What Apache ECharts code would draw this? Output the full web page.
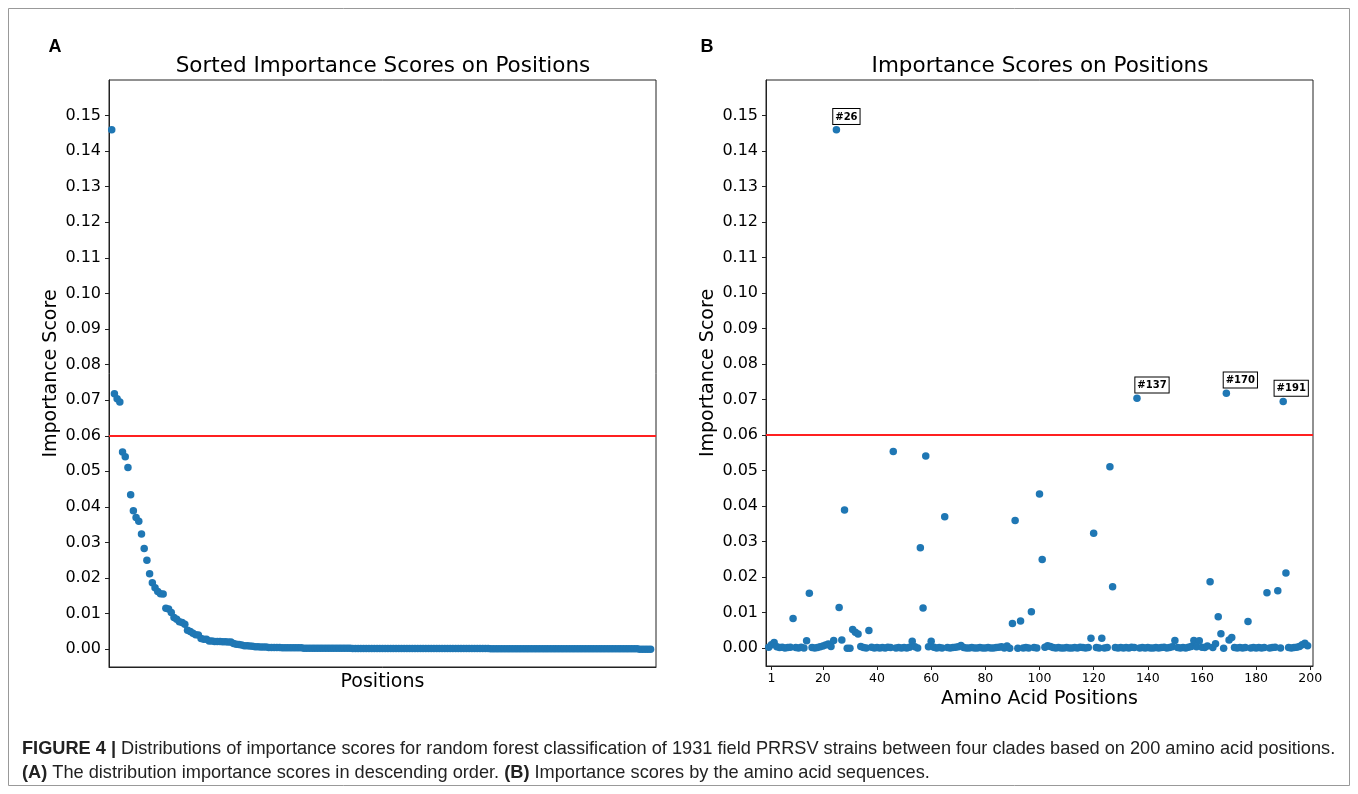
<!DOCTYPE html>
<html>
<head>
<meta charset="utf-8">
<script src="https://cdn.jsdelivr.net/npm/echarts@6/dist/echarts.min.js"></script>
<style>
html,body{margin:0;padding:0;background:#fff;}
#chart{width:1358px;height:794px;}
</style>
</head>
<body>
<div id="chart"></div>
<script>
// ---------- data ----------
// Panel B: importance score of each amino-acid position (index 0..199 -> position 1..200)
const scoresByPosition = [
  0.0003, 0.0010, 0.0016, 0.0004, 0.0002, 0.0003, 0.0001, 0.0002, 0.0003, 0.0084,
  0.0002, 0.0001, 0.0003, 0.0001, 0.0021, 0.0155, 0.0002, 0.0001, 0.0002, 0.0004,
  0.0006, 0.0009, 0.0012, 0.0005, 0.0022, 0.1460, 0.0115, 0.0023, 0.0389, 0.0000,
  0.0000, 0.0053, 0.0045, 0.0040, 0.0005, 0.0002, 0.0001, 0.0050, 0.0003, 0.0001,
  0.0002, 0.0001, 0.0002, 0.0001, 0.0003, 0.0002, 0.0554, 0.0001, 0.0002, 0.0001,
  0.0002, 0.0001, 0.0003, 0.0020, 0.0004, 0.0001, 0.0283, 0.0113, 0.0541, 0.0004,
  0.0020, 0.0003, 0.0001, 0.0002, 0.0001, 0.0370, 0.0002, 0.0001, 0.0002, 0.0003,
  0.0004, 0.0008, 0.0002, 0.0001, 0.0001, 0.0002, 0.0001, 0.0001, 0.0002, 0.0001,
  0.0001, 0.0002, 0.0001, 0.0001, 0.0002, 0.0003, 0.0004, 0.0001, 0.0006, 0.0000,
  0.0070, 0.0360, 0.0000, 0.0077, 0.0001, 0.0002, 0.0001, 0.0103, 0.0002, 0.0001,
  0.0434, 0.0250, 0.0003, 0.0007, 0.0005, 0.0002, 0.0001, 0.0002, 0.0001, 0.0001,
  0.0002, 0.0001, 0.0001, 0.0002, 0.0001, 0.0003, 0.0002, 0.0001, 0.0002, 0.0028,
  0.0324, 0.0002, 0.0001, 0.0028, 0.0001, 0.0002, 0.0511, 0.0173, 0.0002, 0.0001,
  0.0002, 0.0001, 0.0002, 0.0001, 0.0003, 0.0002, 0.0704, 0.0001, 0.0002, 0.0001,
  0.0002, 0.0001, 0.0001, 0.0002, 0.0001, 0.0002, 0.0003, 0.0001, 0.0002, 0.0004,
  0.0022, 0.0002, 0.0001, 0.0002, 0.0001, 0.0003, 0.0005, 0.0022, 0.0004, 0.0021,
  0.0003, 0.0002, 0.0006, 0.0187, 0.0002, 0.0013, 0.0089, 0.0041, 0.0000, 0.0718,
  0.0023, 0.0030, 0.0002, 0.0001, 0.0002, 0.0001, 0.0002, 0.0075, 0.0001, 0.0002,
  0.0001, 0.0002, 0.0001, 0.0002, 0.0156, 0.0001, 0.0002, 0.0003, 0.0162, 0.0001,
  0.0695, 0.0212, 0.0002, 0.0001, 0.0002, 0.0003, 0.0005, 0.0010, 0.0014, 0.0007
];

// Panel A: the same scores in descending order
const sortedScores = [
  0.1460, 0.0718, 0.0704, 0.0695, 0.0554, 0.0541, 0.0511, 0.0434, 0.0389, 0.0370,
  0.0360, 0.0324, 0.0283, 0.0250, 0.0212, 0.0187, 0.0173, 0.0162, 0.0156, 0.0155,
  0.0115, 0.0113, 0.0103, 0.0089, 0.0084, 0.0077, 0.0075, 0.0070, 0.0053, 0.0050,
  0.0045, 0.0041, 0.0040, 0.0030, 0.0028, 0.0028, 0.0023, 0.0023, 0.0022, 0.0022,
  0.0022, 0.0021, 0.0021, 0.0020, 0.0020, 0.0016, 0.0014, 0.0013, 0.0012, 0.0010,
  0.0010, 0.0009, 0.0008, 0.0007, 0.0007, 0.0006, 0.0006, 0.0006, 0.0005, 0.0005,
  0.0005, 0.0005, 0.0005, 0.0004, 0.0004, 0.0004, 0.0004, 0.0004, 0.0004, 0.0004,
  0.0004, 0.0003, 0.0003, 0.0003, 0.0003, 0.0003, 0.0003, 0.0003, 0.0003, 0.0003,
  0.0003, 0.0003, 0.0003, 0.0003, 0.0003, 0.0003, 0.0003, 0.0003, 0.0003, 0.0002,
  0.0002, 0.0002, 0.0002, 0.0002, 0.0002, 0.0002, 0.0002, 0.0002, 0.0002, 0.0002,
  0.0002, 0.0002, 0.0002, 0.0002, 0.0002, 0.0002, 0.0002, 0.0002, 0.0002, 0.0002,
  0.0002, 0.0002, 0.0002, 0.0002, 0.0002, 0.0002, 0.0002, 0.0002, 0.0002, 0.0002,
  0.0002, 0.0002, 0.0002, 0.0002, 0.0002, 0.0002, 0.0002, 0.0002, 0.0002, 0.0002,
  0.0002, 0.0002, 0.0002, 0.0002, 0.0002, 0.0002, 0.0002, 0.0002, 0.0002, 0.0002,
  0.0001, 0.0001, 0.0001, 0.0001, 0.0001, 0.0001, 0.0001, 0.0001, 0.0001, 0.0001,
  0.0001, 0.0001, 0.0001, 0.0001, 0.0001, 0.0001, 0.0001, 0.0001, 0.0001, 0.0001,
  0.0001, 0.0001, 0.0001, 0.0001, 0.0001, 0.0001, 0.0001, 0.0001, 0.0001, 0.0001,
  0.0001, 0.0001, 0.0001, 0.0001, 0.0001, 0.0001, 0.0001, 0.0001, 0.0001, 0.0001,
  0.0001, 0.0001, 0.0001, 0.0001, 0.0001, 0.0001, 0.0001, 0.0001, 0.0001, 0.0001,
  0.0001, 0.0001, 0.0001, 0.0001, 0.0001, 0.0000, 0.0000, 0.0000, 0.0000, 0.0000
];

const threshold = 0.06;
const annotatedPositions = [26, 137, 170, 191];
const yTicks = [0.00, 0.01, 0.02, 0.03, 0.04, 0.05, 0.06, 0.07, 0.08, 0.09, 0.10, 0.11, 0.12, 0.13, 0.14, 0.15];
const xTicksB = [1, 20, 40, 60, 80, 100, 120, 140, 160, 180, 200];

const titleA = 'Sorted Importance Scores on Positions';
const titleB = 'Importance Scores on Positions';
const yName = 'Importance Score';
const xNameA = 'Positions';
const xNameB = 'Amino Acid Positions';
const captionLine1 = ['FIGURE 4 |', ' Distributions of importance scores for random forest classification of 1931 field PRRSV strains between four clades based on 200 amino acid positions.'];
const captionLine2 = ['(A)', ' The distribution importance scores in descending order. ', '(B)', ' Importance scores by the amino acid sequences.'];

// ---------- styling ----------
const MPL = 'DejaVu Sans';
const BLUE = '#1f77b4';
const AX = '#222';
const labelOffsets = {26: 10, 137: 15, 170: 14, 191: 8};

function yAxisCfg(gi) {
  return {
    gridIndex: gi, type: 'value', min: -0.005, max: 0.16,
    name: yName, nameLocation: 'middle', nameGap: 48,
    nameTextStyle: {fontFamily: MPL, fontSize: 19, color: '#000'},
    axisLine: {show: true, onZero: false, lineStyle: {color: AX, width: 1}},
    axisTick: {show: true, length: 4, lineStyle: {color: AX}, customValues: yTicks},
    axisLabel: {show: true, customValues: yTicks, margin: 8, fontFamily: MPL, fontSize: 16, color: '#000',
      formatter: v => Number(v).toFixed(2)},
    splitLine: {show: false}
  };
}

const dataA = sortedScores.map((v, i) => [i, v]);
const dataB = scoresByPosition.map((v, i) => {
  const pos = i + 1;
  if (annotatedPositions.includes(pos)) {
    return {
      value: [i, v],
      label: {
        show: true, position: 'top', distance: 2, offset: [labelOffsets[pos], 0],
        formatter: '#' + pos,
        fontFamily: MPL, fontWeight: 'bold', fontSize: 10, color: '#000',
        backgroundColor: '#fff', borderColor: '#000', borderWidth: 1, padding: [3, 2, 2, 2]
      }
    };
  }
  return [i, v];
});

const redLine = {
  silent: true, symbol: 'none', label: {show: false},
  lineStyle: {color: '#ff2020', width: 1.8, type: 'solid'},
  data: [{yAxis: threshold}]
};

const captionRich = {
  b: {font: 'bold 18.2px "Liberation Sans"', fill: '#222'},
  r: {font: '18.2px "Liberation Sans"', fill: '#222'}
};

const option = {
  animation: false,
  backgroundColor: '#fff',
  grid: [
    {left: 109, top: 80, width: 547, height: 587, show: true, borderColor: AX, borderWidth: 1, backgroundColor: 'transparent'},
    {left: 766, top: 80, width: 547, height: 586, show: true, borderColor: AX, borderWidth: 1, backgroundColor: 'transparent'}
  ],
  xAxis: [
    {gridIndex: 0, type: 'value', min: -1, max: 201,
      name: xNameA, nameLocation: 'middle', nameGap: 6,
      nameTextStyle: {fontFamily: MPL, fontSize: 19, color: '#000', verticalAlign: 'top'},
      axisLine: {show: true, onZero: false, lineStyle: {color: AX}}, axisTick: {show: false}, axisLabel: {show: false}, splitLine: {show: false}},
    {gridIndex: 1, type: 'value', min: -1, max: 201,
      name: xNameB, nameLocation: 'middle', nameGap: 21,
      nameTextStyle: {fontFamily: MPL, fontSize: 19, color: '#000', verticalAlign: 'top'},
      axisLine: {show: true, onZero: false, lineStyle: {color: AX}},
      axisTick: {show: true, length: 4, lineStyle: {color: AX}, customValues: xTicksB},
      axisLabel: {show: true, customValues: xTicksB, margin: 6, fontFamily: MPL, fontSize: 12.5, color: '#000'},
      splitLine: {show: false}}
  ],
  yAxis: [yAxisCfg(0), yAxisCfg(1)],
  series: [
    {type: 'scatter', xAxisIndex: 0, yAxisIndex: 0, data: dataA, symbolSize: 7.5,
      itemStyle: {color: BLUE, opacity: 1}, markLine: redLine},
    {type: 'scatter', xAxisIndex: 1, yAxisIndex: 1, data: dataB, symbolSize: 7.5,
      itemStyle: {color: BLUE, opacity: 1}, markLine: redLine}
  ],
  graphic: [
    {type: 'rect', shape: {x: 8.5, y: 8.5, width: 1341, height: 777}, style: {fill: 'none', stroke: '#999', lineWidth: 1}, silent: true},
    {type: 'text', x: 55, y: 47, style: {text: 'A', font: 'bold 18px "Liberation Sans", Arial', fill: '#000', align: 'center', verticalAlign: 'middle'}},
    {type: 'text', x: 707, y: 47, style: {text: 'B', font: 'bold 18px "Liberation Sans", Arial', fill: '#000', align: 'center', verticalAlign: 'middle'}},
    {type: 'text', x: 383, y: 66, style: {text: titleA, font: '21.5px "DejaVu Sans"', fill: '#000', align: 'center', verticalAlign: 'middle'}},
    {type: 'text', x: 1040, y: 66, style: {text: titleB, font: '21.5px "DejaVu Sans"', fill: '#000', align: 'center', verticalAlign: 'middle'}},
    {type: 'text', x: 22, y: 749, style: {
      text: '{b|' + captionLine1[0] + '}{r|' + captionLine1[1] + '}',
      verticalAlign: 'middle', align: 'left', rich: captionRich
    }},
    {type: 'text', x: 22, y: 773, style: {
      text: '{b|' + captionLine2[0] + '}{r|' + captionLine2[1] + '}{b|' + captionLine2[2] + '}{r|' + captionLine2[3] + '}',
      verticalAlign: 'middle', align: 'left', rich: captionRich
    }}
  ]
};

const chart = echarts.init(document.getElementById('chart'), null, {renderer: 'canvas'});
chart.setOption(option);
</script>
</body>
</html>
